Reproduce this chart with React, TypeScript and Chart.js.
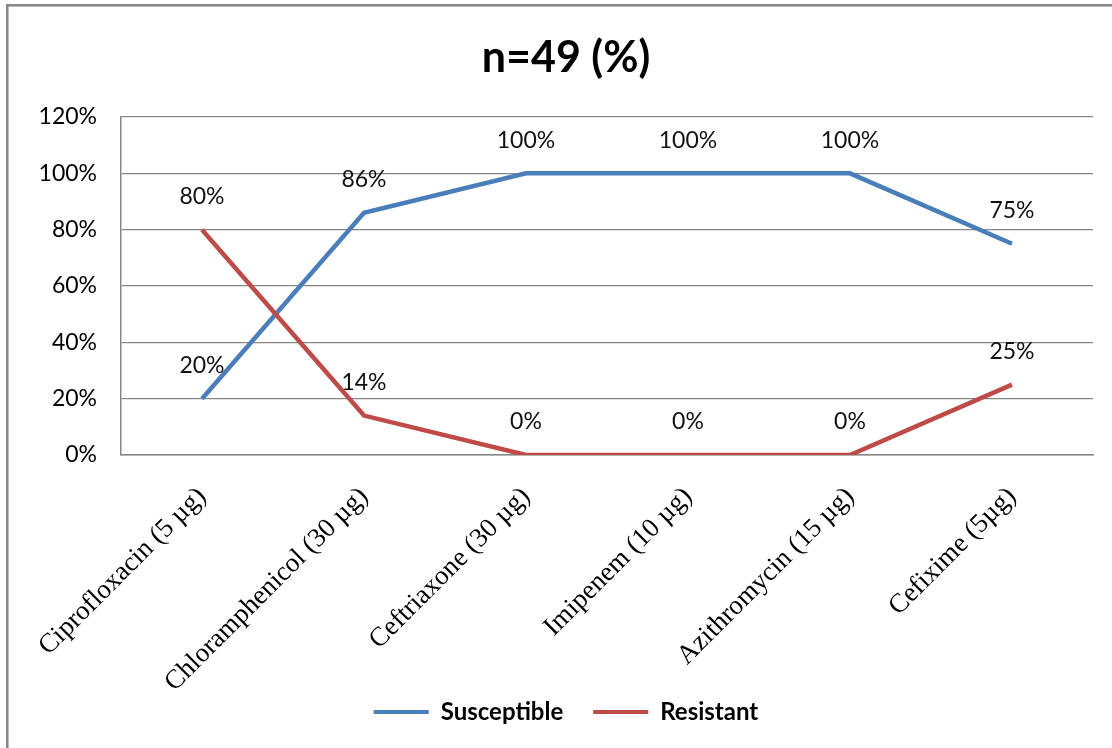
import React, { useEffect, useRef } from "react";
import { Chart, registerables } from "chart.js";

Chart.register(...registerables);

const categories = [
  "Ciprofloxacin (5 µg)",
  "Chloramphenicol (30 µg)",
  "Ceftriaxone (30 µg)",
  "Imipenem (10 µg)",
  "Azithromycin (15 µg)",
  "Cefixime (5µg)",
];
const susceptible = [20, 86, 100, 100, 100, 75];
const resistant = [80, 14, 0, 0, 0, 25];
const yMin = 0;
const yMax = 120;
const yStep = 20;
const titleText = "n=49 (%)";

const BLUE = "#4A7EBB";
const RED = "#BE4B48";
const GRID = "#868686";
const SANS = "Lato, 'Open Sans', sans-serif";
const SERIF = "'Liberation Serif', 'Times New Roman', serif";
const CANVAS_W = 1132;

const frame = {
  id: "frame",
  beforeDraw(chart: any) {
    const ctx = chart.ctx;
    ctx.save();
    ctx.strokeStyle = "#858585";
    ctx.lineWidth = 2.5;
    ctx.strokeRect(7.3, 5.3, chart.width - 15, chart.height + 20);
    ctx.restore();
  },
};

// let the rotated category labels use the room below the axis without clipping
const unclipX = {
  id: "unclipX",
  afterLayout(chart: any) {
    const x = chart.scales.x;
    if (x) x.bottom = chart.height;
  },
};

const dataLabels = {
  id: "dataLabels",
  afterDatasetsDraw(chart: any) {
    const ctx = chart.ctx;
    ctx.save();
    ctx.font = `23px ${SANS}`;
    ctx.fillStyle = "#111";
    ctx.textAlign = "center";
    ctx.textBaseline = "middle";
    chart.data.datasets.forEach((ds: any, i: number) => {
      const meta = chart.getDatasetMeta(i);
      meta.data.forEach((pt: any, j: number) => {
        ctx.fillText(`${ds.data[j]}%`, pt.x, pt.y - 33);
      });
    });
    ctx.restore();
  },
};

export default function App() {
  const ref = useRef<HTMLCanvasElement | null>(null);
  useEffect(() => {
    let chart: Chart | null = null;
    let cancelled = false;
    const make = () => {
      if (cancelled || !ref.current) return;
      chart = new Chart(ref.current, {
        type: "line",
        data: {
          labels: categories,
          datasets: [
            {
              label: "Susceptible",
              data: susceptible,
              borderColor: BLUE,
              backgroundColor: BLUE,
              borderWidth: 4.5,
              pointRadius: 0,
              tension: 0,
              order: 1,
            },
            {
              label: "Resistant",
              data: resistant,
              borderColor: RED,
              backgroundColor: RED,
              borderWidth: 4.5,
              pointRadius: 0,
              tension: 0,
              order: 0,
            },
          ],
        },
        options: {
          animation: false,
          responsive: true,
          maintainAspectRatio: false,
          layout: { padding: { left: 0, right: 0, top: 0, bottom: 14 } },
          plugins: {
            title: {
              display: true,
              text: titleText,
              color: "#000",
              font: { family: SANS, size: 43, weight: "bold" },
              padding: { top: 32.2, bottom: 33.2 },
            },
            legend: {
              position: "bottom",
              labels: {
                boxWidth: 55,
                boxHeight: 4,
                padding: 30,
                color: "#000",
                font: { family: SANS, size: 24, weight: "bold" },
                sort: (a: any, b: any) => a.datasetIndex - b.datasetIndex,
                generateLabels: (c: any) =>
                  Chart.defaults.plugins.legend.labels
                    .generateLabels(c)
                    .map((it: any) => ({ ...it, lineWidth: 0, fillStyle: it.strokeStyle })),
              },
            },
            tooltip: { enabled: false },
          },
          scales: {
            x: {
              offset: true,
              grid: { display: false, drawTicks: false },
              border: { display: true, color: GRID, width: 1.5 },
              ticks: {
                autoSkip: false,
                maxRotation: 45,
                minRotation: 45,
                padding: 26,
                color: "#000",
                font: { family: SERIF, size: 27 },
              },
              afterFit: (s: any) => {
                s.height = 215;
              },
            },
            y: {
              min: yMin,
              max: yMax,
              grid: { color: GRID, lineWidth: 1.2, drawTicks: false },
              border: { display: true, color: GRID, width: 1.5 },
              ticks: {
                stepSize: yStep,
                padding: 24,
                color: "#000",
                font: { family: SANS, size: 23 },
                callback: (v: any) => `${v}%`,
              },
              afterFit: (s: any) => {
                s.width = 121;
              },
            },
            yRightSpace: {
              position: "right",
              display: true,
              grid: { display: false, drawTicks: false },
              border: { display: false },
              ticks: { display: false },
              afterFit: (s: any) => {
                s.width = CANVAS_W - 1093;
              },
            },
          },
        },
        plugins: [frame, unclipX, dataLabels],
      });
    };
    const fonts = (document as any).fonts;
    if (fonts && fonts.load) {
      Promise.all([
        fonts.load(`23px Lato`),
        fonts.load(`bold 23px Lato`),
        fonts.load(`25px "Liberation Serif"`),
      ])
        .catch(() => null)
        .then(make);
    } else {
      make();
    }
    return () => {
      cancelled = true;
      if (chart) chart.destroy();
    };
  }, []);

  return (
    <div
      style={{
        position: "fixed",
        left: 0,
        top: 0,
        width: 1112,
        height: 748,
        overflow: "hidden",
        background: "#fff",
      }}
    >
      <div style={{ position: "absolute", left: 0, top: 0, width: CANVAS_W, height: 748 }}>
        <canvas ref={ref} />
      </div>
    </div>
  );
}
